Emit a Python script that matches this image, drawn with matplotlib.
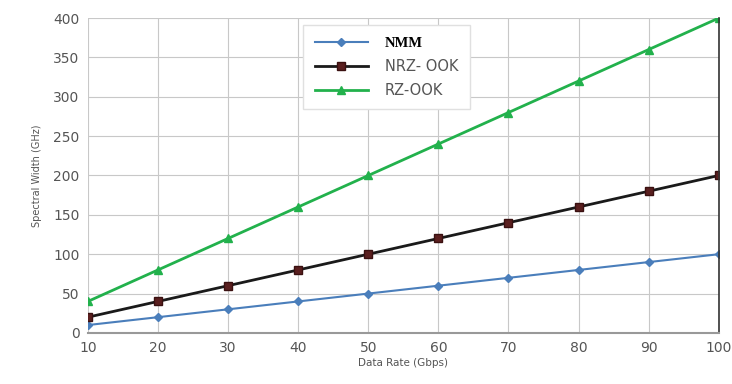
import numpy as np
import matplotlib.pyplot as plt

# datos
rate = [10, 20, 30, 40, 50, 60, 70, 80, 90, 100]
nmm = [10, 20, 30, 40, 50, 60, 70, 80, 90, 100]
nrz = [20, 40, 60, 80, 100, 120, 140, 160, 180, 200]
rz = [40, 80, 120, 160, 200, 240, 280, 320, 360, 400]

fig = plt.figure(figsize=(7.32, 3.84), dpi=100)
ax = fig.add_axes([0.12, 0.133, 0.862, 0.82])

l1, = ax.plot(rate, nmm, color='#4a7ebb', marker='D', markersize=4, lw=1.5, label='NMM')
l2, = ax.plot(rate, nrz, color='#1a1a1a', marker='s', markersize=6,
              markerfacecolor='#5a1f1f', markeredgecolor='#3a1010', lw=2, label='NRZ- OOK')
l3, = ax.plot(rate, rz, color='#22b14c', marker='^', markersize=6, lw=2, label='RZ-OOK')

ax.set_xlim(10, 100)
ax.set_ylim(0, 400)
ax.set_xticks(rate)
ax.set_yticks(np.arange(0, 401, 50))
ax.tick_params(labelsize=10, colors='#555555', length=0, pad=6)
ax.grid(True, color='#c8c8c8', lw=0.8)
for s in ['top', 'left']:
    ax.spines[s].set_visible(False)
ax.spines['bottom'].set_color('#999999')
ax.spines['bottom'].set_linewidth(1.5)
ax.spines['right'].set_color('#333333')
ax.spines['right'].set_linewidth(1.2)

ax.set_xlabel('Data Rate (Gbps)', fontsize=7.5, color='#555555', labelpad=2)
ax.set_ylabel('Spectral Width (GHz)', fontsize=7, color='#555555', labelpad=8)

leg = ax.legend(loc='upper left', bbox_to_anchor=(0.33, 1.0), frameon=True,
                fancybox=False, edgecolor='#e0e0e0', framealpha=1, fontsize=10.5,
                handlelength=3.6, borderpad=0.8, labelspacing=0.6, handletextpad=1.2)
txt = leg.get_texts()
txt[0].set_fontfamily('Liberation Serif')
txt[0].set_fontweight('bold')
for t in txt[1:]:
    t.set_color('#555555')

fig.savefig('out.png', dpi=100)
